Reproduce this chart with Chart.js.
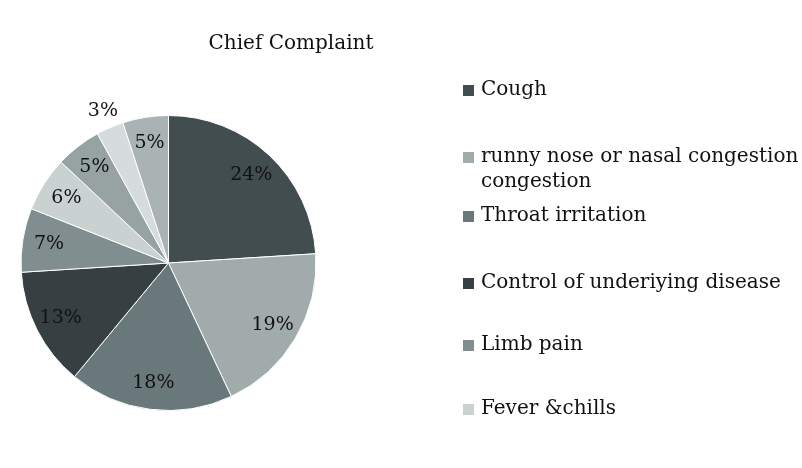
<!DOCTYPE html>
<html>
<head>
<meta charset="utf-8">
<script src="https://cdn.jsdelivr.net/npm/chart.js@4/dist/chart.umd.min.js"></script>
<style>
html,body{margin:0;padding:0;background:#fff;}
#wrap{width:802px;height:468px;position:relative;}
</style>
</head>
<body>
<div id="wrap"><canvas id="c" width="802" height="468"></canvas></div>
<script>
const titleText = 'Chief Complaint';
const categories = ['Cough', 'runny nose or nasal congestion\ncongestion', 'Throat irritation', 'Control of underiying disease', 'Limb pain', 'Fever &chills', '', '', ''];
const values = [24, 19, 18, 13, 7, 6, 5, 3, 5];
const colors = ['#414d4f', '#a1abab', '#69787a', '#363f41', '#808e8f', '#c9d1d1', '#97a3a3', '#d6dcdc', '#a9b3b3'];
const legendCount = 6;
const legendY = [90, 157, 216, 283, 345, 409];

const FONT = '"DejaVu Serif", "Liberation Serif", serif';

const drawPlugin = {
  id: 'custom',
  afterDraw(chart) {
    const ctx = chart.ctx;
    const meta = chart.getDatasetMeta(0);
    ctx.save();
    ctx.fillStyle = '#111';
    ctx.font = '20px ' + FONT;
    ctx.textAlign = 'center';
    ctx.textBaseline = 'middle';
    ctx.fillText(titleText, 291, 44);
    ctx.font = '19px ' + FONT;
    meta.data.forEach((arc, i) => {
      const p = arc.getProps(['x','y','startAngle','endAngle','outerRadius'], true);
      const mid = (p.startAngle + p.endAngle) / 2;
      const f = values[i] < 4 ? 1.12 : 0.82;
      const r = p.outerRadius * f;
      ctx.fillStyle = '#111';
      ctx.fillText(values[i] + '%', p.x + Math.cos(mid) * r, p.y + Math.sin(mid) * r);
    });
    ctx.textAlign = 'left';
    ctx.font = '20px ' + FONT;
    for (let i = 0; i < legendCount; i++) {
      const y = legendY[i];
      ctx.fillStyle = colors[i];
      ctx.fillRect(463, y - 5, 11, 11);
      ctx.fillStyle = '#111';
      const lines = categories[i].split('\n');
      lines.forEach((ln, k) => ctx.fillText(ln, 481, y + k * 25));
    }
    ctx.restore();
  }
};

new Chart(document.getElementById('c'), {
  type: 'pie',
  data: {
    labels: categories,
    datasets: [{
      data: values,
      backgroundColor: colors,
      borderColor: '#ffffff',
      borderWidth: 1
    }]
  },
  options: {
    responsive: false,
    animation: false,
    layout: { padding: { left: 20, right: 485, top: 115, bottom: 57 } },
    plugins: {
      legend: { display: false },
      title: { display: false },
      tooltip: { enabled: false }
    }
  },
  plugins: [drawPlugin]
});
</script>
</body>
</html>
